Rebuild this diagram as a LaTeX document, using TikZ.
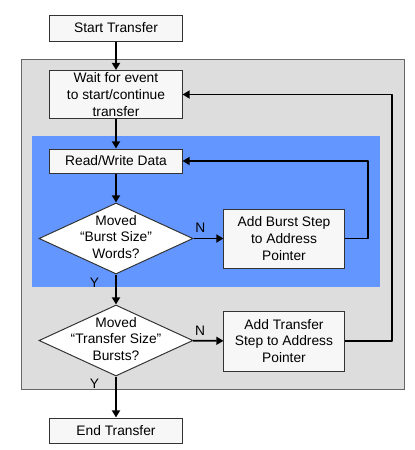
\documentclass[tikz,border=0pt]{standalone}
\usepackage{fontspec}
\setmainfont{Liberation Sans}
\usepackage{tikz}
\usetikzlibrary{shapes.geometric,arrows.meta}
\definecolor{panelgray}{RGB}{221,221,221}
\definecolor{burstblue}{RGB}{99,150,255}
\definecolor{boxfill}{RGB}{247,247,247}
\newcommand{\decisiontext}[1] {\makebox[0pt]{\begin{tabular}{@{}c@{}}#1\end{tabular}}}

\begin{document}
\begin{tikzpicture}[x=0.025cm,y=-0.025cm,
        font=\fontsize{9.8pt}{11.9pt}\selectfont,
        box/.style={shape=rectangle,draw=black!80,fill=boxfill,line width=0.7pt,align=center,inner sep=0pt},
        decision/.style={shape=diamond,draw=black!80,fill=white,line width=0.7pt,inner sep=0pt,minimum width=3.85cm,minimum height=1.775cm},
        arr/.style={-{Triangle[length=1.8mm,width=2mm]},line width=1.3pt,line join=round}]
        \useasboundingbox (0,0) rectangle (415,450);

        %panels
        \draw[draw=black!60,line width=0.7pt,fill=panelgray] (21,59) rectangle (404,389);
        \fill[burstblue] (32,136) rectangle (380,287);

        \node[box,minimum width=3.3cm,minimum height=0.65cm] (start) at (116,28)     {Start Transfer};
        \node[box,minimum width=3.3cm,minimum height=1.2cm] (wait) at (116,94.5)     {Wait for event\\to start/continue\\transfer};
        \node[box,minimum width=3.3cm,minimum height=0.6cm] (rw) at (116,161)     {Read/Write Data};
        \node[decision] (moved1) at (116,238.5)     {\decisiontext{Moved\\“Burst Size”\\Words?}};
        \node[box,minimum width=3cm,minimum height=1.475cm] (burst) at (284,238.5)     {Add Burst Step\\to Address\\Pointer};
        \node[decision] (moved2) at (116,340.5)     {\decisiontext{Moved\\“Transfer Size”\\Bursts?}};
        \node[box,minimum width=3cm,minimum height=1.5cm] (xfer) at (284,341)     {Add Transfer\\Step to Address\\Pointer};
        \node[box,minimum width=3.3cm,minimum height=0.625cm] (end) at (116,430.5)     {End Transfer};

        %loop corners
        \coordinate (burstback) at (368,161);
        \coordinate (xferback) at (392,94.5);

        %edges with text
        \path[arr] (start) edge (wait);
        \path[arr] (wait) edge (rw);
        \path[arr] (rw) edge (moved1);
        \path[arr] (moved1) edge node[pos=0.23,above]{N} (burst);
        \path[arr] (moved1) edge node[pos=0.26,left=8pt]{Y} (moved2);
        \path[arr] (moved2) edge node[pos=0.23,above]{N} (xfer);
        \path[arr] (moved2) edge node[pos=0.17,left=8pt]{Y} (end);
        \draw[arr] (burst.east) -| (burstback) -- (rw.east);
        \draw[arr] (xfer.east) -| (xferback) -- (wait.east);
\end{tikzpicture}
\end{document}
